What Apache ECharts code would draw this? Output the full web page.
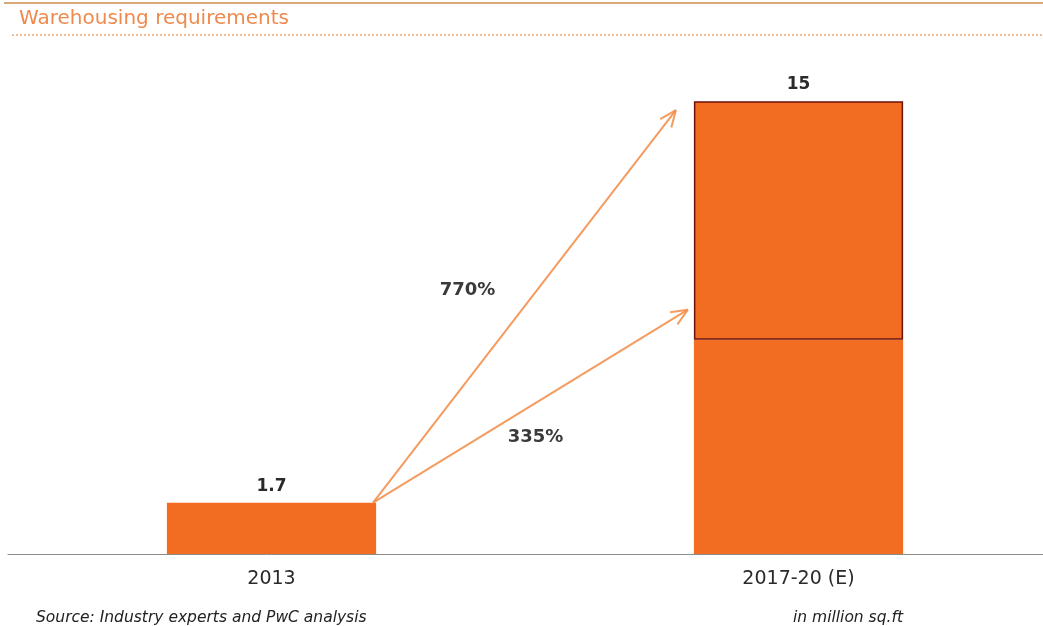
<!DOCTYPE html>
<html>
<head>
<meta charset="utf-8">
<style>
  html, body { margin: 0; padding: 0; background: #ffffff; }
  #chart { width: 1043px; height: 626px; }
</style>
<script src="https://cdn.jsdelivr.net/npm/echarts@6/dist/echarts.min.js"></script>
</head>
<body>
<div id="chart"></div>
<script>
// Warehousing requirements, in million sq.ft
const categories = ['2013', '2017-20 (E)'];
const totals = [1.7, 15];
// level reached by the 335% growth case inside the forecast bar
const midLevel = 7.1;
const growthLabels = ['335%', '770%'];
const growthTargets = [midLevel, totals[1]];

const ORANGE = '#f26d21';
const FONT = '"DejaVu Sans", Verdana, sans-serif';

const baseValues = [totals[0], midLevel];
const upperValues = [null, +(totals[1] - midLevel).toFixed(2)];

const BAR_RATIO = 0.397;

const chart = echarts.init(document.getElementById('chart'));

// arrows from the 2013 bar to the two forecast levels
function renderArrows(params, api) {
  const bandW = api.size([1, 0])[0];
  const barW = bandW * BAR_RATIO;
  const children = [];
  const start = api.coord([0, totals[0]]);
  const sx = start[0] + barW / 2 - 3;
  const sy = start[1];
  // pixel nudges of the arrow tips away from the bar edges
  const tipNudge = [[-6, -30], [-18, 9]];
  const labelOffset = [[5, 31], [-57, -16]];
  for (let i = 0; i < growthTargets.length; i++) {
    const end = api.coord([1, growthTargets[i]]);
    const ex = end[0] - barW / 2 + tipNudge[i][0];
    const ey = end[1] + tipNudge[i][1];
    const ang = Math.atan2(ey - sy, ex - sx);
    const hl = 18, ha = 0.4;
    const lineStyle = { stroke: '#f3904f', lineWidth: 2, opacity: 0.9 };
    children.push({ type: 'line', shape: { x1: sx, y1: sy, x2: ex, y2: ey }, style: lineStyle });
    children.push({ type: 'line', shape: { x1: ex, y1: ey, x2: ex - hl * Math.cos(ang - ha), y2: ey - hl * Math.sin(ang - ha) }, style: lineStyle });
    children.push({ type: 'line', shape: { x1: ex, y1: ey, x2: ex - hl * Math.cos(ang + ha), y2: ey - hl * Math.sin(ang + ha) }, style: lineStyle });
    const mx = (sx + ex) / 2 + labelOffset[i][0];
    const my = (sy + ey) / 2 + labelOffset[i][1];
    children.push({
      type: 'text',
      style: {
        x: mx, y: my, text: growthLabels[i],
        fill: '#3a3a3a', font: 'bold 18px ' + FONT,
        align: 'center', verticalAlign: 'middle'
      }
    });
  }
  return { type: 'group', children: children };
}

chart.setOption({
  animation: false,
  backgroundColor: '#ffffff',
  grid: { left: 8, width: 1054, top: 71, bottom: 72, outerBoundsMode: 'none', containLabel: false },
  xAxis: {
    type: 'category',
    data: categories,
    axisLine: { lineStyle: { color: '#8c8c8c', width: 1 } },
    axisTick: { show: false },
    axisLabel: { color: '#2a2a2a', fontSize: 19, fontFamily: FONT, margin: 16 }
  },
  yAxis: {
    type: 'value', min: 0, max: 16, show: false,
    splitLine: { show: false }
  },
  graphic: [
    { type: 'line', shape: { x1: 4, y1: 3, x2: 1043, y2: 3 }, style: { stroke: '#d9a878', lineWidth: 2 } },
    { type: 'text', left: 19, top: 9, style: { text: 'Warehousing requirements', fill: '#ef8a4f', font: '20px ' + FONT } },
    { type: 'line', shape: { x1: 12, y1: 35, x2: 1043, y2: 35 }, style: { stroke: '#efa571', lineWidth: 1.5, lineDash: [2, 2] } },
    { type: 'text', left: 36, top: 610, style: { text: 'Source: Industry experts and PwC analysis', fill: '#222', font: 'italic 15.5px ' + FONT } },
    { type: 'text', left: 793, top: 610, style: { text: 'in million sq.ft', fill: '#222', font: 'italic 15.5px ' + FONT } }
  ],
  series: [
    {
      type: 'bar', stack: 'w', data: baseValues,
      barWidth: (BAR_RATIO * 100) + '%',
      itemStyle: { color: ORANGE },
      label: {
        show: true, position: 'top', distance: 8,
        color: '#2a2a2a', fontSize: 17, fontWeight: 'bold', fontFamily: FONT,
        formatter: p => p.dataIndex === 0 ? String(totals[0]) : ''
      }
    },
    {
      type: 'bar', stack: 'w', data: upperValues,
      barWidth: (BAR_RATIO * 100) + '%',
      itemStyle: { color: ORANGE, borderColor: '#6e1208', borderWidth: 1.5 },
      label: {
        show: true, position: 'top', distance: 8,
        color: '#2a2a2a', fontSize: 17, fontWeight: 'bold', fontFamily: FONT,
        formatter: () => String(totals[1])
      }
    },
    {
      type: 'custom',
      renderItem: renderArrows,
      data: [[0, 0]],
      z: 5,
      silent: true
    }
  ]
});
</script>
</body>
</html>
